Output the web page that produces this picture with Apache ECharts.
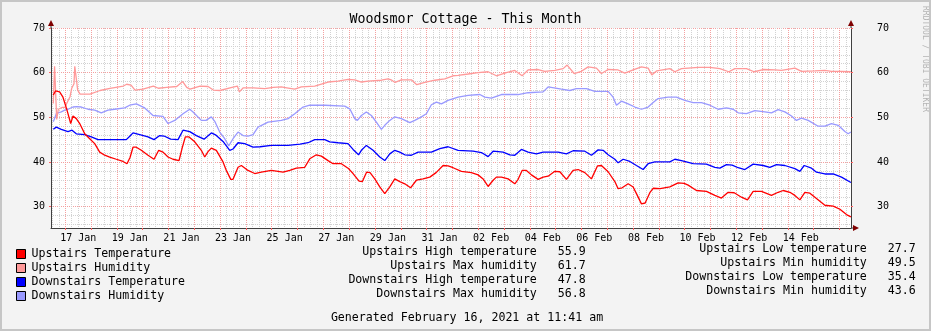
<!DOCTYPE html>
<html>
<head>
<meta charset="utf-8">
<title>Woodsmor Cottage - This Month</title>
<script src="https://cdn.jsdelivr.net/npm/echarts@6/dist/echarts.min.js"></script>
<style>
  html, body { margin: 0; padding: 0; background: #f3f3f3; }
  #chart { width: 931px; height: 331px; }
</style>
</head>
<body>
<div id="chart"></div>
<script>
// Time is measured in days since 16 Jan 2021 00:00 (so 17 Jan 00:00 = 1).
const upstairsTemperature = [[0.535,55.0],[0.62,55.9],[0.78,55.7],[0.91,54.5],[1.066,51.6],[1.209,48.6],[1.298,50.3],[1.426,49.7],[1.558,48.6],[1.752,46.3],[1.946,45.2],[2.14,44.1],[2.333,42.2],[2.527,41.5],[2.721,41.1],[2.977,40.6],[3.236,40.1],[3.391,39.6],[3.508,41.0],[3.624,43.3],[3.752,43.3],[3.946,42.6],[4.205,41.5],[4.438,40.6],[4.62,42.6],[4.787,42.2],[4.981,41.1],[5.174,40.6],[5.407,40.3],[5.523,43.0],[5.651,45.6],[5.795,45.6],[6.016,44.5],[6.271,42.6],[6.403,41.1],[6.531,42.3],[6.659,43.1],[6.853,42.6],[7.112,40.0],[7.24,38.1],[7.411,36.1],[7.5,36.1],[7.694,38.8],[7.822,39.2],[8.081,38.1],[8.341,37.4],[8.597,37.7],[8.984,38.1],[9.438,37.7],[9.698,38.1],[9.953,38.6],[10.279,38.8],[10.473,40.7],[10.729,41.6],[10.922,41.3],[11.182,40.3],[11.376,39.6],[11.698,39.6],[11.957,38.6],[12.151,37.4],[12.384,35.7],[12.512,35.6],[12.674,37.7],[12.81,37.6],[12.992,36.2],[13.186,34.4],[13.38,32.9],[13.574,34.4],[13.767,36.2],[13.961,35.6],[14.155,35.1],[14.38,34.2],[14.605,35.9],[14.864,36.2],[15.124,36.6],[15.368,37.6],[15.64,39.2],[15.833,39.1],[16.027,38.7],[16.349,37.9],[16.736,37.6],[16.996,37.1],[17.19,36.2],[17.384,34.5],[17.578,35.9],[17.705,36.6],[17.899,36.6],[18.159,36.2],[18.419,35.1],[18.547,36.1],[18.702,38.1],[18.868,38.1],[19.062,37.1],[19.322,36.1],[19.516,36.6],[19.709,36.8],[19.969,37.9],[20.163,37.8],[20.419,36.1],[20.678,38.1],[20.872,38.3],[21.132,37.6],[21.388,36.2],[21.62,39.1],[21.775,39.2],[22.035,37.8],[22.295,35.6],[22.422,34.0],[22.578,34.2],[22.81,35.1],[23.004,34.4],[23.132,32.9],[23.326,30.6],[23.469,30.8],[23.651,33.1],[23.779,34.1],[24.05,34.0],[24.426,34.4],[24.748,35.3],[24.981,35.2],[25.136,34.8],[25.457,33.6],[25.845,33.4],[26.171,32.5],[26.426,31.9],[26.686,33.2],[26.919,33.1],[27.202,32.1],[27.434,31.5],[27.655,33.4],[27.977,33.4],[28.364,32.5],[28.624,33.2],[28.818,33.6],[29.078,33.2],[29.271,32.5],[29.465,31.5],[29.659,33.2],[29.853,33.0],[30.047,32.1],[30.434,30.3],[30.756,30.1],[31.016,29.4],[31.271,28.2],[31.442,27.7]];

const upstairsHumidity = [[0.535,53.1],[0.585,61.4],[0.624,61.4],[0.667,49.5],[0.729,51.8],[0.872,52.2],[0.988,52.2],[1.054,53.1],[1.182,54.6],[1.248,56.5],[1.337,57.5],[1.368,61.4],[1.434,61.4],[1.481,56.1],[1.57,55.2],[1.957,55.2],[2.345,56.0],[2.733,56.5],[3.248,57.0],[3.38,57.4],[3.547,57.2],[3.702,56.1],[4.012,56.3],[4.411,57.0],[4.605,56.5],[4.93,56.7],[5.318,56.9],[5.55,58.0],[5.705,56.7],[5.833,56.3],[6.221,57.0],[6.531,56.9],[6.736,56.1],[6.996,56.0],[7.384,56.6],[7.667,57.0],[7.744,55.7],[7.899,56.6],[8.287,56.6],[8.729,56.4],[9.062,56.7],[9.372,56.8],[9.581,56.6],[9.891,56.3],[10.147,56.8],[10.667,57.0],[11.182,57.9],[11.57,58.1],[11.957,58.5],[12.217,58.4],[12.473,57.9],[12.733,58.1],[13.248,58.3],[13.508,58.6],[13.624,58.4],[13.779,57.8],[14.023,58.4],[14.411,58.4],[14.62,57.3],[14.93,57.8],[15.318,58.3],[15.705,58.6],[16.027,59.3],[16.221,59.4],[16.609,59.7],[16.996,60.0],[17.384,60.2],[17.705,59.3],[18.093,60.0],[18.419,60.5],[18.702,59.3],[18.934,60.6],[19.322,60.7],[19.581,60.3],[19.969,60.5],[20.291,60.9],[20.446,61.7],[20.717,59.8],[21.0,60.3],[21.26,61.3],[21.581,61.0],[21.775,59.8],[22.035,60.7],[22.422,60.6],[22.682,59.9],[23.004,60.6],[23.326,61.3],[23.585,61.0],[23.729,59.5],[23.922,60.4],[24.426,60.9],[24.62,60.2],[24.876,60.9],[25.523,61.2],[25.977,61.2],[26.364,60.9],[26.713,60.2],[26.946,60.9],[27.395,60.9],[27.694,60.2],[28.043,60.7],[28.496,60.6],[28.752,60.5],[29.271,61.0],[29.527,60.3],[30.047,60.4],[30.434,60.5],[30.69,60.3],[31.078,60.3],[31.442,60.2]];

const downstairsTemperature = [[0.535,47.3],[0.651,47.8],[0.845,47.3],[1.105,46.8],[1.26,47.1],[1.426,46.3],[1.752,46.1],[2.008,45.6],[2.267,45.0],[3.364,45.0],[3.508,45.8],[3.624,46.5],[3.884,46.1],[4.205,45.6],[4.438,45.0],[4.659,45.9],[4.826,45.8],[5.085,45.1],[5.368,45.0],[5.562,47.1],[5.822,46.8],[6.078,45.9],[6.376,45.1],[6.659,46.5],[6.841,46.0],[7.112,44.6],[7.372,42.6],[7.5,42.9],[7.694,44.3],[7.953,44.1],[8.275,43.3],[8.547,43.4],[8.984,43.7],[9.632,43.7],[10.097,44.0],[10.407,44.3],[10.667,45.0],[11.054,45.0],[11.248,44.5],[11.57,44.3],[11.957,44.1],[12.151,42.8],[12.364,41.6],[12.473,42.6],[12.667,43.7],[12.926,42.6],[13.186,41.1],[13.38,40.3],[13.574,41.8],[13.767,42.6],[13.961,42.2],[14.155,41.6],[14.411,41.5],[14.671,42.2],[15.186,42.2],[15.512,43.0],[15.833,43.4],[16.221,42.6],[16.802,42.4],[17.124,42.1],[17.384,41.2],[17.578,42.4],[17.965,42.2],[18.225,41.6],[18.419,41.5],[18.674,42.8],[18.934,42.2],[19.256,41.8],[19.516,42.2],[20.097,42.2],[20.419,41.8],[20.678,42.5],[21.132,42.4],[21.388,41.5],[21.647,42.7],[21.841,42.6],[22.035,41.6],[22.295,40.6],[22.422,39.8],[22.616,40.6],[22.876,40.1],[23.132,39.2],[23.391,38.3],[23.585,39.6],[23.845,40.0],[24.426,40.0],[24.62,40.6],[24.876,40.3],[25.329,39.6],[25.845,39.5],[26.171,38.8],[26.364,38.6],[26.62,39.4],[26.841,39.3],[27.074,38.7],[27.333,38.3],[27.655,39.5],[28.043,39.2],[28.302,38.8],[28.558,39.4],[28.884,39.2],[29.271,38.5],[29.465,37.9],[29.632,39.2],[29.915,38.6],[30.109,37.7],[30.434,37.3],[30.756,37.3],[31.078,36.6],[31.442,35.4]];

const downstairsHumidity = [[0.535,49.0],[0.659,50.9],[0.845,51.2],[0.977,51.6],[1.105,51.8],[1.298,52.3],[1.442,52.4],[1.62,52.3],[1.88,51.8],[2.14,51.6],[2.395,51.0],[2.655,51.6],[2.915,51.8],[3.302,52.1],[3.496,52.7],[3.752,53.0],[4.078,52.1],[4.399,50.4],[4.787,50.2],[4.981,48.6],[5.24,49.3],[5.562,50.8],[5.822,51.8],[5.95,51.2],[6.271,49.3],[6.453,49.3],[6.659,50.1],[6.791,49.1],[6.984,46.7],[7.178,45.2],[7.333,43.6],[7.5,45.2],[7.694,46.7],[7.888,45.9],[8.081,45.8],[8.275,46.1],[8.469,47.8],[8.857,48.9],[9.372,49.3],[9.632,49.7],[9.891,50.8],[10.213,52.3],[10.473,52.7],[11.054,52.7],[11.829,52.5],[12.023,51.9],[12.217,49.7],[12.318,49.3],[12.473,50.4],[12.667,51.2],[12.86,50.4],[13.054,48.9],[13.248,47.3],[13.38,48.2],[13.574,49.3],[13.767,50.1],[14.023,49.7],[14.349,48.8],[14.543,49.3],[14.798,50.1],[14.992,50.8],[15.186,52.8],[15.38,53.4],[15.574,53.0],[15.833,53.8],[16.221,54.5],[16.609,54.9],[17.062,55.1],[17.256,54.5],[17.512,54.3],[17.899,55.1],[18.547,55.1],[18.934,55.5],[19.516,55.7],[19.709,56.8],[20.225,56.3],[20.55,56.0],[20.806,56.4],[21.194,56.4],[21.519,55.8],[22.035,55.8],[22.229,54.5],[22.357,52.7],[22.551,53.6],[22.81,53.0],[23.07,52.3],[23.326,51.8],[23.585,52.3],[23.779,53.3],[23.973,54.2],[24.36,54.5],[24.682,54.5],[25.008,53.8],[25.329,53.3],[25.651,53.3],[25.977,52.7],[26.298,51.8],[26.62,52.1],[26.88,51.8],[27.074,51.0],[27.395,50.8],[27.721,51.5],[28.109,51.2],[28.364,51.0],[28.624,51.7],[28.884,51.2],[29.14,50.3],[29.333,49.3],[29.527,49.8],[29.787,49.3],[30.174,48.0],[30.434,48.0],[30.69,48.6],[30.95,48.2],[31.209,46.8],[31.337,46.3],[31.442,46.7]];

const seriesNames = ['Upstairs Temperature', 'Upstairs Humidity', 'Downstairs Temperature', 'Downstairs Humidity'];
const seriesColors = ['#ff0000', '#ff9999', '#0000ff', '#9999ff'];

// x-axis labels sit at noon of every second day
const xLabelDays = [1.5, 3.5, 5.5, 7.5, 9.5, 11.5, 13.5, 15.5, 17.5, 19.5, 21.5, 23.5, 25.5, 27.5, 29.5];
const xLabelTexts = ['17 Jan', '19 Jan', '21 Jan', '23 Jan', '25 Jan', '27 Jan', '29 Jan', '31 Jan',
                     '02 Feb', '04 Feb', '06 Feb', '08 Feb', '10 Feb', '12 Feb', '14 Feb'];
const yLabelValues = [30, 40, 50, 60, 70];

const X_MIN = 0.446, X_MAX = 31.446;
const Y_MIN = 25.2, Y_MAX = 70;
const G = { left: 51, top: 28, width: 800, height: 200 };

// grid line positions: every midnight (major), every 6 hours (minor), every 2 units on y
const dayLines = [];
for (let d = Math.ceil(X_MIN); d <= X_MAX; d++) dayLines.push(d);
const quarterLines = [];
for (let q = Math.ceil(X_MIN * 4); q / 4 <= X_MAX; q++) if (q % 4) quarterLines.push(q / 4);
const yMinorLines = [];
for (let v = 26; v <= Y_MAX; v += 2) if (v % 10) yMinorLines.push(v);

const MONO = '"DejaVu Sans Mono", "Liberation Mono", monospace';
const AXIS_COLOR = '#404040';
const ARROW_COLOR = '#7f0000';
const MAJOR_GRID = { color: '#f4a0a0', type: [1, 1], width: 1 };
const MINOR_GRID = { color: '#d2d2d2', type: [1, 1], width: 1 };

function valuesOf(s) { return s.map(p => p[1]); }
function fmt(v) { return v.toFixed(1); }
const maxOf = s => fmt(Math.max(...valuesOf(s)));
const minOf = s => fmt(Math.min(...valuesOf(s)));

function pad(label, value, width) {
  let s = label;
  while (s.length + value.length < width) s += ' ';
  return s + value;
}
const leftStats = [
  pad('Upstairs High temperature', maxOf(upstairsTemperature), 32),
  pad('Upstairs Max humidity', maxOf(upstairsHumidity), 28),
  pad('Downstairs High temperature', maxOf(downstairsTemperature), 34),
  pad('Downstairs Max humidity', maxOf(downstairsHumidity), 30)
].join('\n');
const rightStats = [
  pad('Upstairs Low temperature', minOf(upstairsTemperature), 31),
  pad('Upstairs Min humidity', minOf(upstairsHumidity), 28),
  pad('Downstairs Low temperature', minOf(downstairsTemperature), 33),
  pad('Downstairs Min humidity', minOf(downstairsHumidity), 30)
].join('\n');

const seriesData = [upstairsTemperature, upstairsHumidity, downstairsTemperature, downstairsHumidity];

const chart = echarts.init(document.getElementById('chart'), null, { renderer: 'canvas' });
const gx0 = G.left, gx1 = G.left + G.width, gy0 = G.top, gy1 = G.top + G.height;

chart.setOption({
  animation: false,
  backgroundColor: '#f3f3f3',
  grid: {
    left: G.left, top: G.top, width: G.width, height: G.height,
    show: true, backgroundColor: '#ffffff', borderWidth: 0,
    containLabel: false, outerBoundsMode: 'none'
  },
  xAxis: [
    { // 6-hourly minor grid
      type: 'value', min: X_MIN, max: X_MAX, position: 'bottom',
      axisLine: { show: false, onZero: false },
      axisTick: { show: false, customValues: quarterLines },
      axisLabel: { show: false },
      splitLine: { show: true, lineStyle: MINOR_GRID }
    },
    { // daily major grid and date labels
      type: 'value', min: X_MIN, max: X_MAX, position: 'bottom',
      axisLine: { show: true, onZero: false, lineStyle: { color: AXIS_COLOR, width: 1 } },
      axisTick: { show: true, customValues: dayLines, length: 2, lineStyle: { color: '#ff6060' } },
      axisLabel: {
        customValues: xLabelDays, margin: 5,
        fontFamily: MONO, fontSize: 10, color: '#000',
        formatter: v => {
          const i = xLabelDays.findIndex(d => Math.abs(d - v) < 1e-6);
          return i >= 0 ? xLabelTexts[i] : '';
        }
      },
      splitLine: { show: true, lineStyle: MAJOR_GRID }
    }
  ],
  yAxis: [
    { // minor horizontal grid every 2 units
      type: 'value', min: Y_MIN, max: Y_MAX, position: 'left',
      axisLine: { show: false, onZero: false },
      axisTick: { show: false, customValues: yMinorLines },
      axisLabel: { show: false },
      splitLine: { show: true, lineStyle: MINOR_GRID }
    },
    {
      type: 'value', min: Y_MIN, max: Y_MAX, position: 'left',
      axisLine: { show: true, onZero: false, lineStyle: { color: AXIS_COLOR, width: 1 } },
      axisTick: { show: true, customValues: yLabelValues, length: 2, lineStyle: { color: '#ff6060' } },
      axisLabel: { customValues: yLabelValues, margin: 6, fontFamily: MONO, fontSize: 10, color: '#000' },
      splitLine: { show: true, lineStyle: MAJOR_GRID }
    },
    {
      type: 'value', min: Y_MIN, max: Y_MAX, position: 'right',
      axisLine: { show: true, onZero: false, lineStyle: { color: AXIS_COLOR, width: 1 } },
      axisTick: { show: true, customValues: yLabelValues, length: 2, lineStyle: { color: '#ff6060' } },
      axisLabel: { customValues: yLabelValues, margin: 26, fontFamily: MONO, fontSize: 10, color: '#000' },
      splitLine: { show: false }
    }
  ],
  legend: {
    orient: 'vertical', left: 16, top: 247, padding: 0,
    itemWidth: 9, itemHeight: 9, itemGap: 0, icon: 'rect',
    data: seriesNames,
    selectedMode: false,
    itemStyle: { borderColor: '#000', borderWidth: 1 },
    textStyle: { fontFamily: MONO, fontSize: 11.6, lineHeight: 14, color: '#000', padding: [0, 0, 0, 1] }
  },
  series: seriesNames.map((name, i) => ({
    name, type: 'line', xAxisIndex: 1, yAxisIndex: 1,
    data: seriesData[i], showSymbol: false, symbol: 'none',
    color: seriesColors[i],
    lineStyle: { color: seriesColors[i], width: 1.3 },
    itemStyle: { color: seriesColors[i] },
    emphasis: { disabled: true },
    z: 3 + (3 - i)
  })),
  graphic: [
    { type: 'rect', silent: true, z: 100,
      shape: { x: 1, y: 1, width: 929, height: 329 },
      style: { fill: 'none', stroke: '#c6c6c6', lineWidth: 2 } },
    { type: 'text', silent: true, x: 465.5, y: 19.5,
      style: { text: 'Woodsmor Cottage - This Month', fontFamily: MONO, fontSize: 13.3,
               fill: '#000', align: 'center', verticalAlign: 'middle' } },
    { type: 'text', silent: true, x: 925, y: 59, rotation: -Math.PI / 2,
      style: { text: 'RRDTOOL / TOBI OETIKER', fontFamily: MONO, fontSize: 8,
               fill: '#b4b4b4', align: 'center', verticalAlign: 'middle' } },
    // axis extensions and arrow heads
    { type: 'line', silent: true, shape: { x1: gx0, y1: gy0, x2: gx0, y2: gy0 - 4 },
      style: { stroke: AXIS_COLOR, lineWidth: 1 } },
    { type: 'line', silent: true, shape: { x1: gx1, y1: gy0, x2: gx1, y2: gy0 - 4 },
      style: { stroke: AXIS_COLOR, lineWidth: 1 } },
    { type: 'line', silent: true, shape: { x1: gx1, y1: gy1, x2: gx1 + 4, y2: gy1 },
      style: { stroke: AXIS_COLOR, lineWidth: 1 } },
    { type: 'polygon', silent: true, shape: { points: [[gx0 - 3, gy0 - 2], [gx0 + 3, gy0 - 2], [gx0, gy0 - 8]] },
      style: { fill: ARROW_COLOR } },
    { type: 'polygon', silent: true, shape: { points: [[gx1 - 3, gy0 - 2], [gx1 + 3, gy0 - 2], [gx1, gy0 - 8]] },
      style: { fill: ARROW_COLOR } },
    { type: 'polygon', silent: true, shape: { points: [[gx1 + 2, gy1 - 3], [gx1 + 2, gy1 + 3], [gx1 + 8, gy1]] },
      style: { fill: ARROW_COLOR } },
    { type: 'text', silent: true, x: 585.7, y: 245,
      style: { text: leftStats, fontFamily: MONO, fontSize: 11.6, lineHeight: 14,
               fill: '#000', align: 'right', verticalAlign: 'top' } },
    { type: 'text', silent: true, x: 915.7, y: 242.3,
      style: { text: rightStats, fontFamily: MONO, fontSize: 11.6, lineHeight: 14,
               fill: '#000', align: 'right', verticalAlign: 'top' } },
    { type: 'text', silent: true, x: 467, y: 318.3,
      style: { text: 'Generated February 16, 2021 at 11:41 am', fontFamily: MONO, fontSize: 11.6,
               fill: '#000', align: 'center', verticalAlign: 'middle' } }
  ]
});
</script>
</body>
</html>
